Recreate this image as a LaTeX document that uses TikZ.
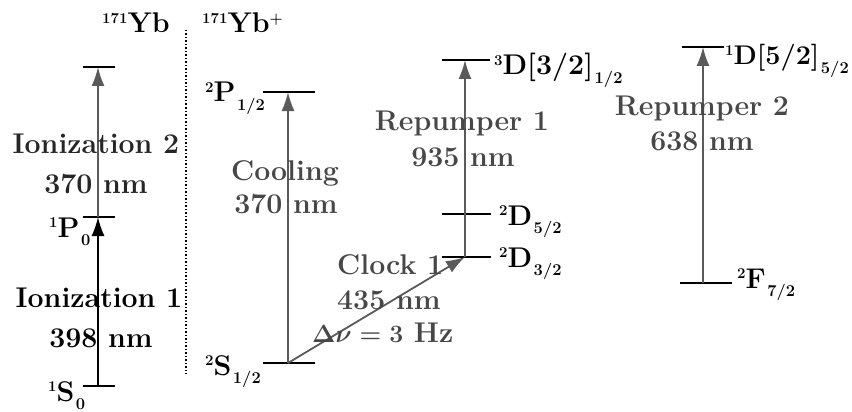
\documentclass[tikz,border=0pt]{standalone}
\usetikzlibrary{arrows.meta}
\definecolor{arr}{HTML}{5A5A5A}
\definecolor{lab}{HTML}{474747}
\newcommand\sUp[1]{\raisebox{0.34em}{\fontsize{15}{15}\selectfont\bfseries #1}}
\newcommand\sDn[1]{\kern1.5pt\raisebox{-0.31em}{\fontsize{16.5}{16}\selectfont\bfseries #1}}
\begin{document}
\begin{tikzpicture}[x=1pt,y=-1pt,
  lvl/.style={line width=2.4pt,black},
  trans/.style={line width=1.8pt,arr,-{Latex[length=19pt,width=13pt]}},
  txt/.style={inner sep=0pt,font=\fontsize{28.5}{32}\selectfont\bfseries\boldmath},
  gtxt/.style={txt,text=lab},
]
\useasboundingbox (0,0) rectangle (852,412);
% levels
\coordinate (ytopL) at (83,67);  \coordinate (ytopR) at (115,67);  \coordinate (ytop) at (98,67);
\coordinate (p0L) at (83,217);   \coordinate (p0R) at (115,217);   \coordinate (p0) at (98,217);
\coordinate (s0L) at (83,386);   \coordinate (s0R) at (115,386);   \coordinate (s0) at (98,386);
\coordinate (p12L) at (263,92);  \coordinate (p12R) at (315,92);   \coordinate (p12) at (288,92);
\coordinate (s12L) at (263,363); \coordinate (s12R) at (315,363);  \coordinate (s12) at (288,363);
\coordinate (d3L) at (442,60);   \coordinate (d3R) at (490,60);    \coordinate (d3) at (465,60);
\coordinate (d52L) at (442,214); \coordinate (d52R) at (491,214);
\coordinate (d32L) at (442,257); \coordinate (d32R) at (491,257);  \coordinate (d32) at (465,257);
\coordinate (d1L) at (682,47);   \coordinate (d1R) at (724,47);    \coordinate (d1) at (703,47);
\coordinate (f7L) at (680,283);  \coordinate (f7R) at (732,283);   \coordinate (f7) at (703,283);
\coordinate (dotT) at (186,30);  \coordinate (dotB) at (186,374);

\foreach \a/\b in {ytopL/ytopR,p0L/p0R,s0L/s0R,p12L/p12R,s12L/s12R,d3L/d3R,d52L/d52R,d32L/d32R,d1L/d1R,f7L/f7R}
  \draw[lvl] (\a) -- (\b);
\draw[line width=1.5pt,dotted] (dotT) -- (dotB);

% transitions
\draw[trans,black] (s0) -- (p0);
\draw[trans] (p0) -- (ytop);
\draw[trans] (s12) -- (p12);
\draw[trans] (d32) -- (d3);
\draw[trans] (s12) -- (d32);
\draw[trans] (f7) -- (d1);

% headers
\node[txt,anchor=base west] (hyb) at (102,33) {\sUp{171}Yb};
\node[txt,anchor=base west] (hybp) at (202,33) {\sUp{171}Yb\sUp{+}};

% level labels
\node[txt,anchor=base west] (lp0) at (49,237) {\sUp{1}P\sDn{0}};
\node[txt,anchor=base west] (ls0) at (48,401) {\sUp{1}S\sDn{0}};
\node[txt,anchor=base west] (lp12) at (205,102) {\sUp{2}P\sDn{1/2}};
\node[txt,anchor=base west] (ls12) at (205,375) {\sUp{2}S\sDn{1/2}};
\node[txt,anchor=base west] (ld3) at (494,75) {\sUp{3}D[3/2]\sDn{1/2}};
\node[txt,anchor=base west] (ld52) at (499,225) {\sUp{2}D\sDn{5/2}};
\node[txt,anchor=base west] (ld32) at (499,267) {\sUp{2}D\sDn{3/2}};
\node[txt,anchor=base west,font=\fontsize{27}{30}\selectfont\bfseries] (ld1) at (725,65) {\sUp{1}D[5/2]\sDn{5/2}};
\node[txt,anchor=base west] (lf7) at (737,288) {\sUp{2}F\sDn{7/2}};

% transition labels
\node[txt,text=black!85,anchor=base] (ion2) at (96,153) {Ionization 2};
\node[txt,text=black!85,anchor=base] (ion2w) at (96,193) {370 nm};
\node[txt,anchor=base] (ion1) at (99,307) {Ionization 1};
\node[txt,anchor=base] (ion1w) at (101,347) {398 nm};
\node[gtxt,anchor=base] (cool) at (285,180) {Cooling};
\node[gtxt,anchor=base] (coolw) at (286,213) {370 nm};
\node[gtxt,anchor=base] (rp1) at (462,131) {Repumper 1};
\node[gtxt,anchor=base] (rp1w) at (463,166) {935 nm};
\node[gtxt,anchor=base] (rp2) at (702,115) {Repumper 2};
\node[gtxt,anchor=base] (rp2w) at (702,150) {638 nm};
\node[gtxt,anchor=base west] (clk) at (337,274) {Clock 1};
\node[gtxt,anchor=base west] (clkw) at (337,309) {435 nm};
\node[gtxt,anchor=base west] (clkd) at (312,342) {$\Delta\nu = 3$ Hz};
\end{tikzpicture}
\end{document}
